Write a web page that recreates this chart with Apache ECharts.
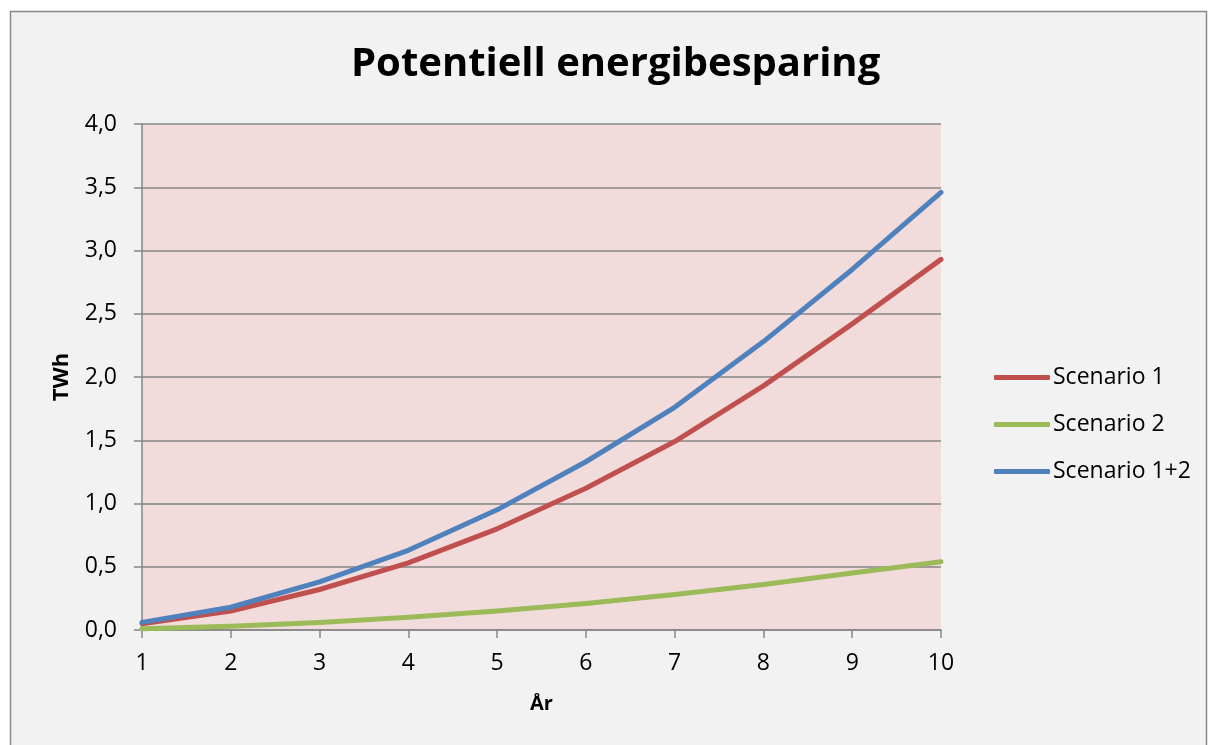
<!DOCTYPE html>
<html>
<head>
<meta charset="utf-8">
<script src="https://cdn.jsdelivr.net/npm/echarts@6/dist/echarts.min.js"></script>
<style>
  html, body { margin: 0; padding: 0; background: #ffffff; }
  #chart { width: 1209px; height: 745px; }
</style>
</head>
<body>
<div id="chart"></div>
<script>
// Years on the horizontal axis
const years = ['1', '2', '3', '4', '5', '6', '7', '8', '9', '10'];

// Energy saving per scenario, TWh
const scenario1 = [0.05, 0.15, 0.32, 0.53, 0.80, 1.12, 1.49, 1.93, 2.42, 2.93];
const scenario2 = [0.01, 0.03, 0.06, 0.10, 0.15, 0.21, 0.28, 0.36, 0.45, 0.54];
const scenario12 = [0.06, 0.18, 0.38, 0.63, 0.95, 1.33, 1.76, 2.28, 2.85, 3.46];

const seriesNames = ['Scenario 1', 'Scenario 2', 'Scenario 1+2'];
const seriesColors = ['#C0504D', '#9BBB59', '#4F81BD'];

const font = '"Open Sans", "Liberation Sans", sans-serif';
const axisGray = '#868686';

const chart = echarts.init(document.getElementById('chart'), null, { renderer: 'canvas' });

const makeLine = (name, data, color) => ({
  name: name,
  type: 'line',
  data: data,
  symbol: 'none',
  smooth: false,
  lineStyle: { color: color, width: 5, cap: 'round', join: 'round' },
  itemStyle: { color: color },
  z: 3
});

chart.setOption({
  backgroundColor: '#ffffff',
  animation: false,
  graphic: [
    {
      type: 'rect',
      shape: { x: 10.5, y: 11.5, width: 1196, height: 745 },
      style: { fill: '#F2F2F2', stroke: '#888888', lineWidth: 1.5 },
      z: -10
    }
  ],
  title: {
    text: 'Potentiell energibesparing',
    left: 351,
    top: 45,
    padding: 0,
    textStyle: { fontFamily: font, fontWeight: 'bold', fontSize: 40, color: '#000000' }
  },
  legend: {
    orient: 'vertical',
    left: 989,
    top: 361,
    itemGap: 24,
    itemWidth: 56,
    itemHeight: 5,
    icon: 'roundRect',
    data: seriesNames,
    textStyle: { fontFamily: font, fontSize: 23, color: '#000000', padding: [0, 0, 0, -2] }
  },
  grid: {
    left: 142,
    right: 268,
    top: 124,
    bottom: 115,
    show: true,
    backgroundColor: '#F2DCDB',
    borderWidth: 0
  },
  xAxis: {
    type: 'category',
    data: years,
    boundaryGap: false,
    name: 'År',
    nameLocation: 'middle',
    nameGap: 64,
    nameTextStyle: { fontFamily: font, fontWeight: 'bold', fontSize: 20, color: '#000000' },
    axisLine: { show: true, lineStyle: { color: axisGray, width: 1.5 } },
    axisTick: { show: true, alignWithLabel: true, length: 8, lineStyle: { color: axisGray, width: 1.5 } },
    axisLabel: { fontFamily: font, fontSize: 23, color: '#000000', margin: 22 },
    splitLine: { show: false }
  },
  yAxis: {
    type: 'value',
    min: 0,
    max: 4,
    interval: 0.5,
    name: 'TWh',
    nameLocation: 'middle',
    nameGap: 69,
    nameRotate: 90,
    nameTextStyle: { fontFamily: font, fontWeight: 'bold', fontSize: 22, color: '#000000' },
    axisLine: { show: true, lineStyle: { color: axisGray, width: 1.5 } },
    axisTick: { show: true, length: 8, lineStyle: { color: axisGray, width: 1.5 } },
    axisLabel: {
      fontFamily: font, fontSize: 23, color: '#000000', margin: 25,
      formatter: v => v.toFixed(1).replace('.', ',')
    },
    splitLine: { show: true, lineStyle: { color: axisGray, width: 1.5 } }
  },
  series: [
    makeLine(seriesNames[0], scenario1, seriesColors[0]),
    makeLine(seriesNames[1], scenario2, seriesColors[1]),
    makeLine(seriesNames[2], scenario12, seriesColors[2])
  ]
});
</script>
</body>
</html>
